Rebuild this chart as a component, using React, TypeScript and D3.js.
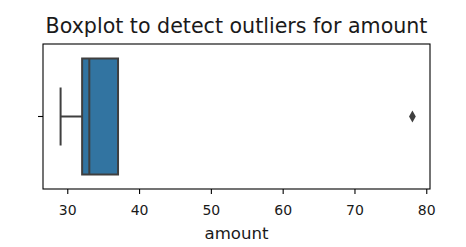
import React from "react";
import * as d3 from "d3";

const categories = ["amount"];
const whiskerLow = [29];
const q1 = [32];
const median = [33];
const q3 = [37];
const whiskerHigh = [37];
const outliers = [78];
const xTicks = [30, 40, 50, 60, 70, 80];
const title = "Boxplot to detect outliers for amount";
const xLabel = "amount";

const W = 466;
const H = 247;
const M = { left: 43, right: 36, top: 44, bottom: 58 };

export default function App() {
  const lo = Math.min(whiskerLow[0], ...outliers);
  const hi = Math.max(whiskerHigh[0], ...outliers);
  const pad = (hi - lo) * 0.05;
  const x = d3.scaleLinear().domain([lo - pad, hi + pad]).range([M.left, W - M.right]);
  const y = d3.scaleLinear().domain([-0.5, 0.5]).range([M.top, H - M.bottom]);
  const font = "'DejaVu Sans', sans-serif";
  const gray = "#3f3f3f";
  const fill = "#3274a1";
  const i = 0;
  const cy = y(0);
  const bTop = y(-0.4);
  const bBot = y(0.4);
  const cTop = y(-0.2);
  const cBot = y(0.2);
  const diamond = d3.symbol().type(d3.symbolDiamond).size(40)();
  return (
    <svg width={W} height={H} style={{ position: "absolute", left: 0, top: 0, background: "#fff" }}>
      <text x={(M.left + W - M.right) / 2} y={33} textAnchor="middle" fontFamily={font} fontSize={20.6} fill="#1a1a1a">
        {title}
      </text>
      {/* whiskers */}
      <line x1={x(whiskerLow[i])} x2={x(q1[i])} y1={cy} y2={cy} stroke={gray} strokeWidth={2} />
      <line x1={x(q3[i])} x2={x(whiskerHigh[i])} y1={cy} y2={cy} stroke={gray} strokeWidth={2} />
      <line x1={x(whiskerLow[i])} x2={x(whiskerLow[i])} y1={cTop} y2={cBot} stroke={gray} strokeWidth={2} />
      <line x1={x(whiskerHigh[i])} x2={x(whiskerHigh[i])} y1={cTop} y2={cBot} stroke={gray} strokeWidth={2} />
      {/* box */}
      <rect x={x(q1[i])} y={bTop} width={x(q3[i]) - x(q1[i])} height={bBot - bTop} fill={fill} stroke={gray} strokeWidth={2} />
      <line x1={x(median[i])} x2={x(median[i])} y1={bTop} y2={bBot} stroke={gray} strokeWidth={2} />
      {/* outliers */}
      {outliers.map((v, k) => (
        <path key={k} d={diamond} transform={`translate(${x(v)},${cy})`} fill={gray} />
      ))}
      {/* axes frame */}
      <rect x={M.left} y={M.top} width={W - M.right - M.left} height={H - M.bottom - M.top} fill="none" stroke="#000" strokeWidth={1.1} />
      {/* y tick */}
      {categories.map((c, k) => (
        <line key={c} x1={M.left - 5} x2={M.left} y1={y(k)} y2={y(k)} stroke="#000" strokeWidth={1.1} />
      ))}
      {/* x ticks */}
      {xTicks.map((t) => (
        <g key={t}>
          <line x1={x(t)} x2={x(t)} y1={H - M.bottom} y2={H - M.bottom + 5} stroke="#000" strokeWidth={1.1} />
          <text x={x(t)} y={215} textAnchor="middle" fontFamily={font} fontSize={14} fill="#1a1a1a">
            {t}
          </text>
        </g>
      ))}
      <text x={(M.left + W - M.right) / 2} y={238.5} textAnchor="middle" fontFamily={font} fontSize={16.6} fill="#1a1a1a">
        {xLabel}
      </text>
    </svg>
  );
}
